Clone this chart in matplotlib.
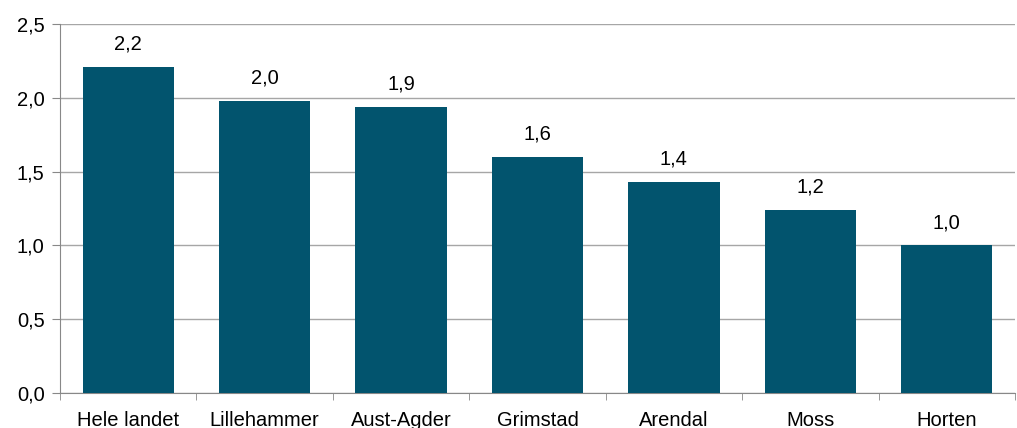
import matplotlib
matplotlib.use("Agg")
import matplotlib.pyplot as plt
import numpy as np

# data
steder = ["Hele landet", "Lillehammer", "Aust-Agder", "Grimstad", "Arendal", "Moss", "Horten"]
verdier = [2.21, 1.98, 1.94, 1.60, 1.43, 1.24, 1.00]
y_ticks = [0.0, 0.5, 1.0, 1.5, 2.0, 2.5]

plt.rcParams['font.family'] = ['Liberation Sans', 'DejaVu Sans']
fs = 14.5

fig = plt.figure(figsize=(10.17, 4.28), dpi=100)
ax = fig.add_axes([60 / 1017, 35 / 428, 955 / 1017, 369 / 428])

x = np.arange(len(steder))
bars = ax.bar(x, verdier, width=0.67, color="#02546e", zorder=3)

for b, v in zip(bars, verdier):
    ax.text(b.get_x() + b.get_width() / 2, v + 0.09, f"{v:.1f}".replace(".", ","),
            ha="center", va="bottom", fontsize=fs)

ax.set_xlim(-0.5, len(steder) - 0.5)
ax.set_ylim(0, 2.5)
ax.set_yticks(y_ticks)
ax.set_yticklabels([f"{t:.1f}".replace(".", ",") for t in y_ticks], fontsize=fs)

# category labels centred, tick marks between categories
ax.set_xticks(x)
ax.set_xticklabels(steder, fontsize=fs)
ax.tick_params(axis="x", length=0, pad=13)
ax.set_xticks(np.arange(len(steder) + 1) - 0.5, minor=True)
ax.tick_params(axis="x", which="minor", length=5, color="#888888", direction="out")
ax.tick_params(axis="y", length=6, color="#888888", direction="out", pad=5)

ax.yaxis.grid(True, color="#a6a6a6", linewidth=1, zorder=0)
for s in ["top", "right"]:
    ax.spines[s].set_visible(False)
for s in ["left", "bottom"]:
    ax.spines[s].set_color("#888888")

fig.savefig("out.png", dpi=100)
